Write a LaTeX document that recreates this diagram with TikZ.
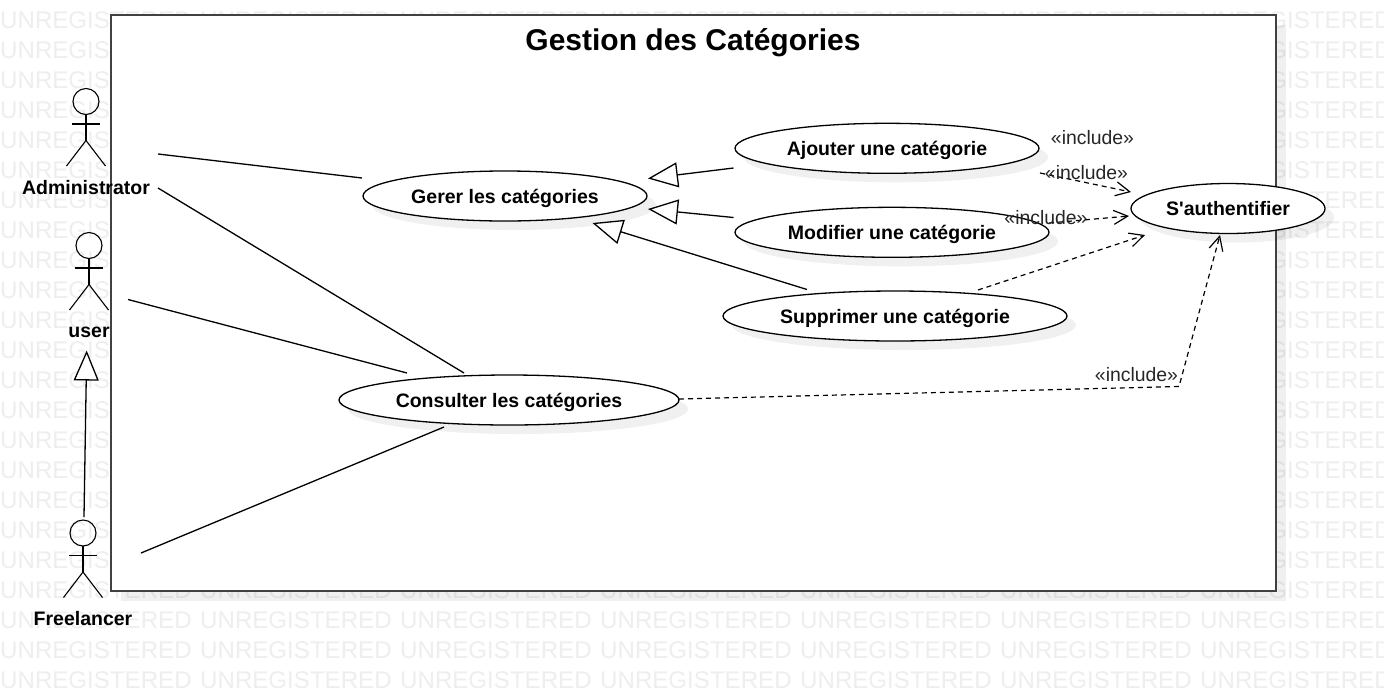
\documentclass[tikz,border=0pt]{standalone}
\usepackage{fontspec}
\setmainfont{Liberation Sans}[Ligatures=TeXOff]
\usetikzlibrary{arrows.meta,shapes.geometric}
\definecolor{wm}{RGB}{238,238,238}
\definecolor{framec}{RGB}{65,65,65}
\tikzset{
 x=1pt,y=-1pt,
 line/.style={draw=black,line width=1.3pt},
 stick/.style={draw=black,line width=1.1pt},
 dropshadow/.style={fill=black,fill opacity=0.06},
 usecase/.style={draw=black,fill=white,line width=1.3pt,ellipse,inner sep=0pt,text height=14pt,text depth=0pt,font=\fontsize{19.5}{21}\selectfont\bfseries},
 actorname/.style={font=\fontsize{19.5}{21}\selectfont\bfseries,inner sep=0pt,text height=14pt,text depth=0pt},
 inc/.style={draw=black,line width=1.2pt,dash pattern=on 5pt off 4pt,-{Straight Barb[length=14pt,width=14pt,line width=1.2pt,sep=0pt]}},
 gen/.style={draw=black,line width=1.3pt,-{Triangle[open,length=30pt,width=25pt,fill=white,line width=1.3pt]}},
 stereo/.style={font=\fontsize{19.4}{21}\selectfont,text=black!85,inner sep=0pt},
 wmtext/.style={font=\fontsize{24.1}{26}\selectfont,text=wm,inner sep=0pt,anchor=west},
}
\newcommand{\usec}[6]{%
 \fill[dropshadow] (#2+9,#3+9) ellipse [x radius=#4,y radius=#5];
 \node[usecase,minimum width=#4*2pt,minimum height=#5*2pt] (#1) at (#2,#3) {#6};}
\newcommand{\actor}[2]{%
 \begin{scope}[shift={(#1,#2)}]
 \draw[stick] (0,0) circle [radius=13];
 \draw[stick] (0,13) -- (0,39);
 \draw[stick] (-14,22.5) -- (14,22.5);
 \draw[stick] (-19.5,64.5) -- (0,39) -- (19.5,64.5);
 \end{scope}}
\begin{document}
\begin{tikzpicture}
\useasboundingbox (0,0) rectangle (1384,697);
\fill[white] (0,0) rectangle (1384,697);
% watermark
\foreach \r in {0,...,22}{
 \foreach \c in {0,...,6}{
  \node[wmtext] at (\c*200,20.5+\r*30) {UNREGISTERED};
 }
}
% frame
\fill[dropshadow] (121,25) rectangle (1286,601);
\draw[draw=framec,fill=white,line width=2pt] (110.5,14.5) rectangle (1275.5,590.5);
\node[font=\fontsize{30}{32}\selectfont\bfseries,inner sep=0pt] (title) at (693,43) {Gestion des Catégories};
% use cases
\usec{gerer}{505}{196}{142}{25}{Gerer les catégories}
\usec{ajouter}{887}{148.3}{152}{25}{Ajouter une catégorie}
\usec{modifier}{892}{232.3}{157}{25}{Modifier une catégorie}
\usec{supprimer}{895}{316}{172}{25}{Supprimer une catégorie}
\usec{consulter}{509}{400}{170}{25}{Consulter les catégories}
\usec{auth}{1228}{208.5}{97}{25}{S'authentifier}
% actors
\actor{86}{101.5}
\actor{89}{245.5}
\actor{83}{533}
\node[actorname] (admin) at (86,187.3) {Administrator};
\node[actorname] (user) at (89,330.3) {user};
\node[actorname] (free) at (83,618.3) {Freelancer};
% free ends
\coordinate (a1) at (158,154);
\coordinate (a2) at (158,188);
\coordinate (u1) at (128,299.5);
\coordinate (f1) at (141,553);
\coordinate (f2) at (84,517);
\coordinate (u2) at (86.7,350.5);
\coordinate (g1) at (362,178);
\coordinate (c1) at (464,373);
\coordinate (c2) at (407,373);
\coordinate (c3) at (444,427);
\draw[line] (a1) -- (g1);
\draw[line] (a2) -- (c1);
\draw[line] (u1) -- (c2);
\draw[line] (f1) -- (c3);
\draw[gen] (f2) -- (u2);
% generalisations
\coordinate (ga) at (733.5,168);
\coordinate (gm) at (733.5,217.5);
\coordinate (gs) at (807,289.5);
\coordinate (ta) at (648,178.5);
\coordinate (tm) at (648,209);
\coordinate (ts) at (592.5,223);
\draw[gen] (ga) -- (ta);
\draw[gen] (gm) -- (tm);
\draw[gen] (gs) -- (ts);
% includes
\coordinate (ia) at (1040,173);
\coordinate (ja) at (1131,192);
\coordinate (im) at (1049,223);
\coordinate (jm) at (1129,216);
\coordinate (is) at (978,290);
\coordinate (js) at (1145,235);
\coordinate (ic) at (679,399);
\coordinate (kc) at (1179,386.5);
\coordinate (jc) at (1220,235);
\draw[inc] (ia) -- (ja);
\draw[inc] (im) -- (jm);
\draw[inc] (is) -- (js);
\draw[inc] (ic) -- (kc) -- (jc);
\node[stereo] (s1) at (1092.5,138) {«include»};
\node[stereo] (s2) at (1086.5,173) {«include»};
\node[stereo] (s3) at (1046,218) {«include»};
\node[stereo] (s4) at (1136.5,374.5) {«include»};
\end{tikzpicture}
\end{document}
